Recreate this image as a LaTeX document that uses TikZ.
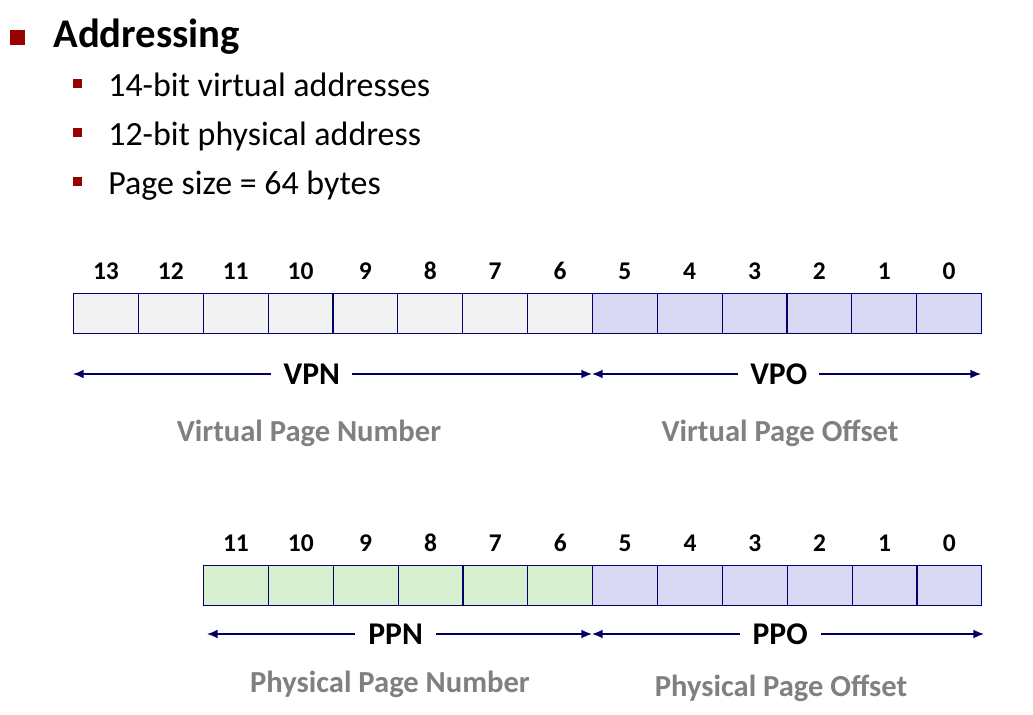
\documentclass[tikz,border=0pt]{standalone}
\usepackage{fontspec}
\setmainfont{Carlito}
\usepackage{tikz}
\usetikzlibrary{arrows.meta,positioning,calc}

\definecolor{slidered}{RGB}{153,0,0}
\definecolor{cellline}{RGB}{0,0,110}
\definecolor{arrowblue}{RGB}{0,0,96}
\definecolor{vpnfill}{RGB}{242,242,242}
\definecolor{offfill}{RGB}{217,217,243}
\definecolor{ppnfill}{RGB}{216,240,208}
\definecolor{labelgray}{RGB}{128,128,128}

\begin{document}
\begin{tikzpicture}[
    x=0.02cm, y=-0.02cm,
    bitcell/.style={draw=cellline, line width=0.6pt, minimum width=1.297cm, minimum height=0.8cm, inner sep=0pt, anchor=north west},
    bitnum/.style={font=\fontsize{14.5}{16}\selectfont\bfseries, inner sep=0pt},
    fieldtag/.style={fill=white, inner sep=0pt, minimum width=1.62cm, font=\fontsize{18}{20}\selectfont\bfseries},
    fieldname/.style={text=labelgray, inner sep=0pt, font=\fontsize{17.4}{20}\selectfont\bfseries},
    bullettext/.style={anchor=base west, inner sep=0pt, font=\fontsize{19.3}{23}\selectfont},
    span/.style={{Latex[length=6pt,width=5pt]}-{Latex[length=6pt,width=5pt]}, draw=arrowblue, line width=0.85pt}
]
    \useasboundingbox (0,0) rectangle (1033,715);

    % Heading and bullets
    \fill[slidered] (10,30) rectangle (25,45);
    \node[anchor=base west, inner sep=0pt, font=\fontsize{23.2}{27}\selectfont\bfseries] (title) at (53,48) {Addressing};
    \fill[slidered] (73,79) rectangle (82,88);
    \node[bullettext] (item1) at (108,97) {14-bit virtual addresses};
    \fill[slidered] (73,128) rectangle (82,137);
    \node[bullettext] (item2) at (108,146) {12-bit physical address};
    \fill[slidered] (73,177) rectangle (82,186);
    \node[bullettext] (item3) at (108,195) {Page size = 64 bytes};

    % Virtual address
    \foreach \b in {13,...,0} {
        \pgfmathsetmacro{\xx}{73+(13-\b)*64.86}
        \ifnum\b>5
            \node[bitcell, fill=vpnfill] (v\b) at (\xx,293) {};
        \else
            \node[bitcell, fill=offfill] (v\b) at (\xx,293) {};
        \fi
        \node[bitnum] (vn\b) at ($(v\b.north)+(0,-22)$) {\b};
    }

    \coordinate (vl) at (73,374);
    \coordinate (vm) at (592,374);
    \coordinate (vr) at (981,374);
    \draw[span] (vl) -- node[fieldtag, pos=0.46] (vpn) {VPN} (vm);
    \draw[span] (vm) -- node[fieldtag, pos=0.48] (vpo) {VPO} (vr);
    \node[fieldname] (vpnname) at (309,433) {Virtual Page Number};
    \node[fieldname] (vponame) at (780,433) {Virtual Page Offset};

    % Physical address
    \foreach \b in {11,...,0} {
        \pgfmathsetmacro{\xx}{203+(11-\b)*64.86}
        \ifnum\b>5
            \node[bitcell, fill=ppnfill] (p\b) at (\xx,565) {};
        \else
            \node[bitcell, fill=offfill] (p\b) at (\xx,565) {};
        \fi
        \node[bitnum] (pn\b) at ($(p\b.north)+(0,-22)$) {\b};
    }

    \coordinate (pl) at (207,634);
    \coordinate (pm) at (592,634);
    \coordinate (pr) at (984,634);
    \draw[span] (pl) -- node[fieldtag, pos=0.49] (ppn) {PPN} (pm);
    \draw[span] (pm) -- node[fieldtag, pos=0.48] (ppo) {PPO} (pr);
    \node[fieldname] (ppnname) at (390,684) {Physical Page Number};
    \node[fieldname] (pponame) at (781,688) {Physical Page Offset};
\end{tikzpicture}
\end{document}
